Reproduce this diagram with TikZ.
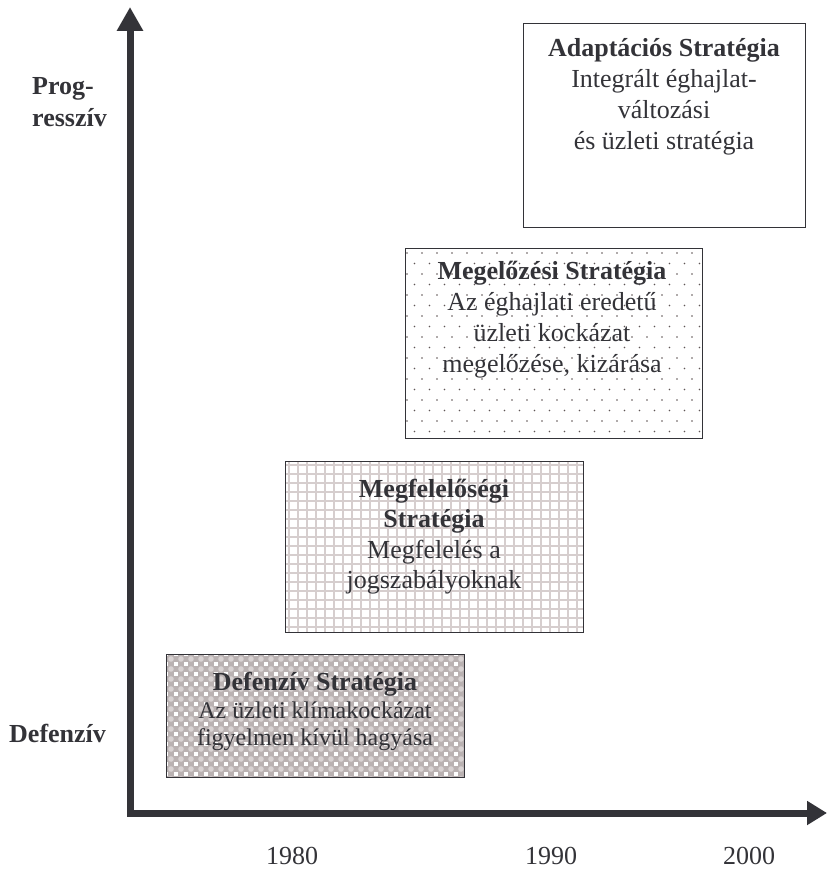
\documentclass[tikz,border=0pt]{standalone}
\usepackage{fontspec}
\setmainfont{Liberation Serif}
\usetikzlibrary{arrows.meta}
\definecolor{ink}{RGB}{51,51,56}
\definecolor{defbase}{RGB}{186,178,178}
\definecolor{defball}{RGB}{216,210,210}
\definecolor{gridc}{RGB}{214,206,206}
\definecolor{dotc}{RGB}{95,85,85}
\tikzset{
  box/.style={draw=ink, line width=1.2pt, inner sep=0pt, anchor=north west},
  ttl/.style={font=\fontsize{26}{31}\bfseries\selectfont, text=ink, anchor=base, inner sep=0pt},
  dsc/.style={font=\fontsize{26}{31}\selectfont, text=ink, anchor=base, inner sep=0pt},
  dscs/.style={font=\fontsize{24}{28}\selectfont, text=ink, anchor=base, inner sep=0pt},
  axlbl/.style={font=\fontsize{26}{31}\bfseries\selectfont, text=ink, anchor=base west, inner sep=0pt},
  year/.style={font=\fontsize{26}{31}\selectfont, text=ink, anchor=base, inner sep=0pt},
  axis/.style={draw=ink, line width=7pt, line join=miter}
}
\begin{document}
\begin{tikzpicture}[x=1pt,y=-1pt]
\useasboundingbox (0,0) rectangle (827,869);

% fill patterns
\begin{scope}
  \clip (405,248) rectangle (702,438);
  \foreach \j in {0,...,18}{
    \foreach \i in {0,...,20}{
      \pgfmathsetmacro{\xx}{407+15*\i+7.5*mod(\j,2)}
      \pgfmathsetmacro{\yy}{253+10.5*\j}
      \fill[dotc] (\xx,\yy) circle (0.9pt);
    }
  }
\end{scope}
\begin{scope}
  \clip (285,461) rectangle (583,632);
  \foreach \i in {0,...,33}{
    \draw[gridc, line width=1.7pt] ({289+9*\i},461) -- ++(0,171);
  }
  \foreach \j in {0,...,19}{
    \draw[gridc, line width=1.7pt] (285,{465+9*\j}) -- ++(298,0);
  }
\end{scope}
\begin{scope}
  \clip (166,654) rectangle (464,777);
  \fill[defbase] (166,654) rectangle (464,777);
  \foreach \i in {0,...,30}{
    \foreach \j in {0,...,13}{
      \fill[white] ({166+10*\i-2.1},{654+10*\j-2.1}) rectangle ++(4.2,4.2);
      \fill[defball] ({171+10*\i},{659+10*\j}) circle (2.8pt);
    }
  }
\end{scope}

% boxes
\node[box, minimum width=282pt, minimum height=204pt] (adapt) at (523,23) {};
\node[box, minimum width=297pt, minimum height=190pt] (megel) at (405,248) {};
\node[box, minimum width=298pt, minimum height=171pt] (megf) at (285,461) {};
\node[box, minimum width=298pt, minimum height=123pt] (def) at (166,654) {};

% texts
\node[ttl] (a1) at (664,57) {Adaptációs Stratégia};
\node[dsc] (a2) at (664,88) {Integrált éghajlat-};
\node[dsc] (a3) at (664,119) {változási};
\node[dsc] (a4) at (664,150) {és üzleti stratégia};

\node[ttl] (m1) at (552,279) {Megelőzési Stratégia};
\node[dsc] (m2) at (552,310) {Az éghajlati eredetű};
\node[dsc] (m3) at (552,341) {üzleti kockázat};
\node[dsc] (m4) at (552,372) {megelőzése, kizárása};

\node[ttl] (f1) at (434,497) {Megfelelőségi};
\node[ttl] (f2) at (434,527) {Stratégia};
\node[dsc] (f3) at (434,558) {Megfelelés a};
\node[dsc] (f4) at (434,588) {jogszabályoknak};

\node[ttl] (d1) at (315,690) {Defenzív Stratégia};
\node[dscs] (d2) at (315,718) {Az üzleti klímakockázat};
\node[dscs] (d3) at (315,745) {figyelmen kívül hagyása};

% axes
\coordinate (ytop) at (130,7);
\coordinate (orig) at (130,813);
\coordinate (xend) at (827,813);
\draw[axis, {Triangle[width=25pt,length=24pt]}-{Triangle[width=23pt,length=20pt]}] (ytop) -- (orig) -- (xend);

% axis labels
\node[axlbl] (p1) at (32,95) {Prog-};
\node[axlbl] (p2) at (32,127) {resszív};
\node[axlbl] (dl) at (9,742) {Defenzív};

\node[year] (y80) at (292,864) {1980};
\node[year] (y90) at (551,864) {1990};
\node[year] (y00) at (749,864) {2000};
\end{tikzpicture}
\end{document}
